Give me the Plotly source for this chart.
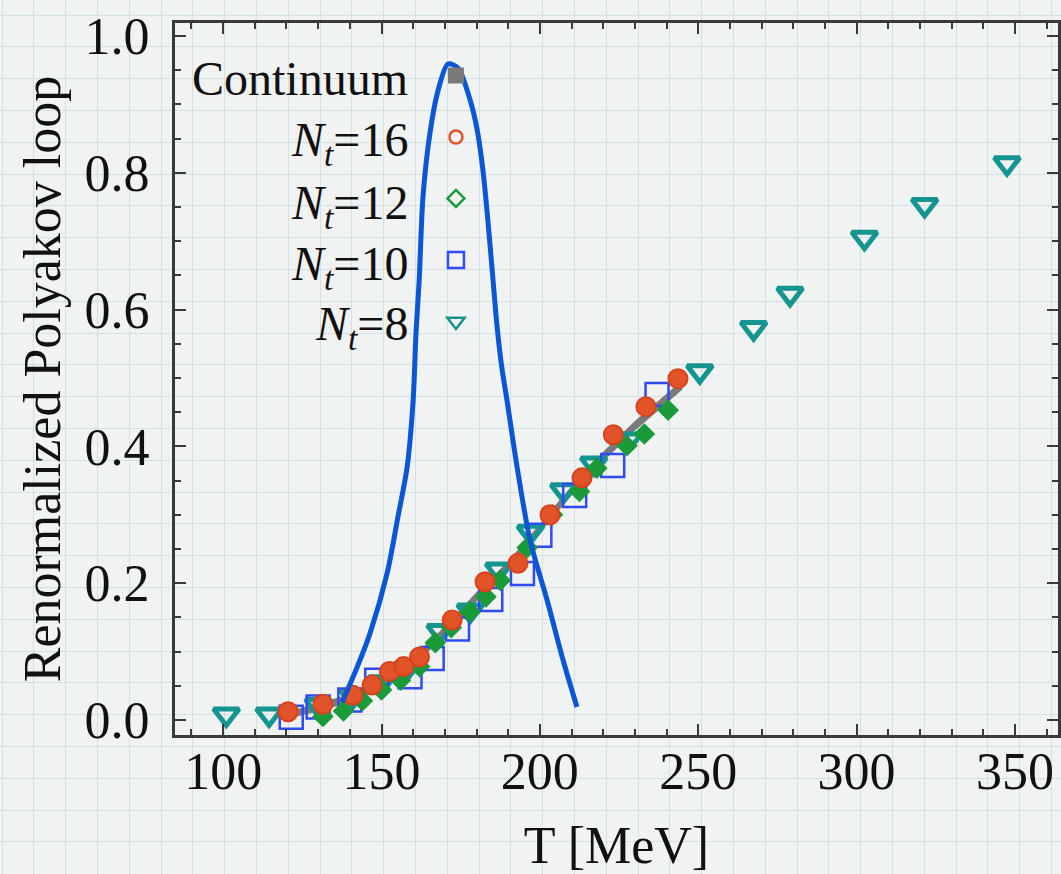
import plotly.graph_objects as go

# --- data ---
T_nt16 = [120.5, 131.5, 141, 147, 152.5, 157, 162, 172.3, 182.7, 193.1, 203.2, 213.3, 223.2, 233.5, 243.6]
P_nt16 = [0.012, 0.023, 0.036, 0.051, 0.071, 0.078, 0.092, 0.146, 0.202, 0.229, 0.300, 0.354, 0.417, 0.458, 0.499]

T_nt12 = [131.5, 138, 144, 150, 156, 162, 167, 172, 178, 183, 187.5, 196, 204, 212.5, 218, 227.5, 233, 240.5]
P_nt12 = [0.005, 0.013, 0.028, 0.044, 0.058, 0.078, 0.113, 0.135, 0.158, 0.18, 0.204, 0.252, 0.30, 0.334, 0.368, 0.401, 0.418, 0.453]

T_nt10 = [121.5, 130, 140, 148.5, 159, 166, 174, 184.5, 194.5, 200, 211, 223, 237]
P_nt10 = [0.004, 0.019, 0.029, 0.058, 0.063, 0.09, 0.133, 0.176, 0.214, 0.27, 0.328, 0.372, 0.476]

T_nt8 = [101, 114.5, 130, 141, 150, 158, 168.5, 178, 187, 197, 207.5, 217, 228, 250.5, 267.5, 279, 302.5, 321.5, 347.5]
P_nt8 = [0.008, 0.008, 0.022, 0.035, 0.055, 0.075, 0.13, 0.16, 0.22, 0.275, 0.336, 0.375, 0.41, 0.51, 0.573, 0.623, 0.705, 0.753, 0.814]

T_cont = [120, 130, 140, 150, 160, 170, 180, 190, 200, 210, 220, 230, 240, 245]
P_cont_lo = [0.002, 0.012, 0.026, 0.049, 0.078, 0.123, 0.173, 0.218, 0.273, 0.328, 0.378, 0.423, 0.463, 0.483]
P_cont_hi = [0.012, 0.024, 0.038, 0.061, 0.092, 0.137, 0.187, 0.232, 0.287, 0.342, 0.392, 0.437, 0.477, 0.497]

# hand-drawn blue peak
T_peak = [137.6, 142.3, 146.4, 151.8, 155.2, 158.1, 160.0, 160.9, 161.9, 163.1, 165.3, 167.9, 171.0,
          174.2, 178.0, 180.2, 182.0, 183.5, 185.0, 186.5, 188.0, 189.6, 192.8, 196.9, 202.3, 207.3, 211.7]
P_peak = [0.026, 0.077, 0.127, 0.215, 0.297, 0.370, 0.468, 0.566, 0.643, 0.765, 0.858, 0.921, 0.959,
          0.953, 0.906, 0.863, 0.805, 0.735, 0.655, 0.575, 0.515, 0.468, 0.370, 0.263, 0.175, 0.088, 0.019]

legend_labels = ["Continuum", "<i>N</i><sub><i>t</i></sub>=16", "<i>N</i><sub><i>t</i></sub>=12",
                 "<i>N</i><sub><i>t</i></sub>=10", "<i>N</i><sub><i>t</i></sub>=8"]

FONT = "Liberation Serif, Times New Roman, serif"
RED, GREEN, BLUE, TEAL, GREY = "#e2532a", "#1b9a3a", "#2f4cf2", "#15958f", "#7a7a7a"
W, H = 1061, 874

fig = go.Figure()

# invisible trace so the graph-paper subplot gets drawn
fig.add_trace(go.Scatter(x=[None], y=[None], xaxis="x", yaxis="y", showlegend=False, hoverinfo="skip"))

# continuum band
fig.add_trace(go.Scatter(x=T_cont, y=P_cont_lo, mode="lines", line=dict(width=0, color=GREY),
                         xaxis="x2", yaxis="y2", showlegend=False, hoverinfo="skip"))
fig.add_trace(go.Scatter(x=T_cont, y=P_cont_hi, mode="lines", line=dict(width=0, color=GREY),
                         fill="tonexty", fillcolor=GREY, xaxis="x2", yaxis="y2", showlegend=False))

# lattice data
fig.add_trace(go.Scatter(x=T_nt8, y=P_nt8, mode="markers", xaxis="x2", yaxis="y2", showlegend=False,
                         marker=dict(symbol="triangle-down-open", size=22, color=TEAL, line=dict(width=5, color=TEAL))))
fig.add_trace(go.Scatter(x=T_nt10, y=P_nt10, mode="markers", xaxis="x2", yaxis="y2", showlegend=False,
                         marker=dict(symbol="square-open", size=23, color=BLUE, line=dict(width=2.5, color=BLUE))))
fig.add_trace(go.Scatter(x=T_nt12, y=P_nt12, mode="markers", xaxis="x2", yaxis="y2", showlegend=False,
                         marker=dict(symbol="diamond", size=15, color=GREEN, line=dict(width=1.5, color=GREEN))))
fig.add_trace(go.Scatter(x=T_nt16, y=P_nt16, mode="markers", xaxis="x2", yaxis="y2", showlegend=False,
                         marker=dict(symbol="circle", size=19, color=RED, line=dict(width=2, color="#d8431c"))))

# hand-drawn peak
fig.add_trace(go.Scatter(x=T_peak, y=P_peak, mode="lines", xaxis="x2", yaxis="y2", showlegend=False,
                         line=dict(color="#0b56d4", width=5, shape="spline", smoothing=0.8)))

# legend keys (legend-only traces, no data)
keys = [("square", GREY, 16, 0), ("circle-open", RED, 13, 2.5), ("diamond-open", GREEN, 13, 2.5),
        ("square-open", BLUE, 16, 2.5), ("triangle-down-open", TEAL, 15, 2.5)]
for sym, col, sz, lw in keys:
    fig.add_trace(go.Scatter(x=[None], y=[None], mode="markers", name="", xaxis="x2", yaxis="y2",
                             marker=dict(symbol=sym, size=sz, color=col, line=dict(width=lw, color=col))))

label_y = [78, 143, 206, 267, 327]
for lab, py in zip(legend_labels, label_y):
    fig.add_annotation(text=lab, xref="paper", yref="paper", x=410 / W, y=1 - py / H,
                       xanchor="right", yanchor="middle", showarrow=False,
                       font=dict(family=FONT, size=48, color="#111"))

axis_col = "#3a3a3a"
fig.update_layout(
    width=W, height=H,
    margin=dict(l=0, r=0, t=0, b=0, autoexpand=False),
    paper_bgcolor="#f1f2f2", plot_bgcolor="rgba(0,0,0,0)",
    font=dict(family=FONT, size=52, color="#111"),
    showlegend=True,
    legend=dict(x=0.4109, y=0.9546, xanchor="left", yanchor="top", bgcolor="rgba(0,0,0,0)",
                font=dict(size=45), borderwidth=0, traceorder="normal"),
    # graph-paper background
    xaxis=dict(domain=[0, 1], anchor="y", range=[0, W], showgrid=True, gridcolor="#d5e0e4", gridwidth=1.3,
               tick0=2, dtick=31.8, showticklabels=False, zeroline=False, showline=False, ticks="",
               fixedrange=True, automargin=False),
    yaxis=dict(domain=[0, 1], anchor="x", range=[H, 0], showgrid=True, gridcolor="#d5e0e4", gridwidth=1.3,
               tick0=15, dtick=31.8, showticklabels=False, zeroline=False, showline=False, ticks="",
               fixedrange=True, automargin=False),
    xaxis2=dict(domain=[175 / W, 1058 / W], anchor="y2", range=[84.8, 363.6], automargin=False,
                tickvals=[100, 150, 200, 250, 300, 350], ticks="inside", ticklen=11, tickwidth=2,
                tickcolor=axis_col, showline=True, linecolor=axis_col, linewidth=3, mirror="ticks",
                showgrid=False, zeroline=False, ticklabelstandoff=-11,
                minor=dict(dtick=10, tick0=0, ticks="inside", ticklen=6, tickwidth=1.5, tickcolor=axis_col),
                title=dict(text="T [MeV]", standoff=30, font=dict(size=52))),
    yaxis2=dict(domain=[1 - 735 / H, 1 - 23 / H], anchor="x2", range=[-0.022, 1.019], automargin=False,
                tickvals=[0, 0.2, 0.4, 0.6, 0.8, 1.0], tickformat=".1f", ticks="inside", ticklen=11,
                tickwidth=2, tickcolor=axis_col, showline=True, linecolor=axis_col, linewidth=3,
                mirror="ticks", showgrid=False, zeroline=False, ticklabelstandoff=12,
                minor=dict(dtick=0.05, tick0=0, ticks="inside", ticklen=6, tickwidth=1.5, tickcolor=axis_col),
                title=dict(text="Renormalized Polyakov loop", standoff=8, font=dict(size=52))),
)

# drop the default page margin so the figure sits at the window origin
fig.write_html("out.html", config={"displayModeBar": False},
               post_script="document.body.style.margin='0';document.body.style.overflow='hidden';")
